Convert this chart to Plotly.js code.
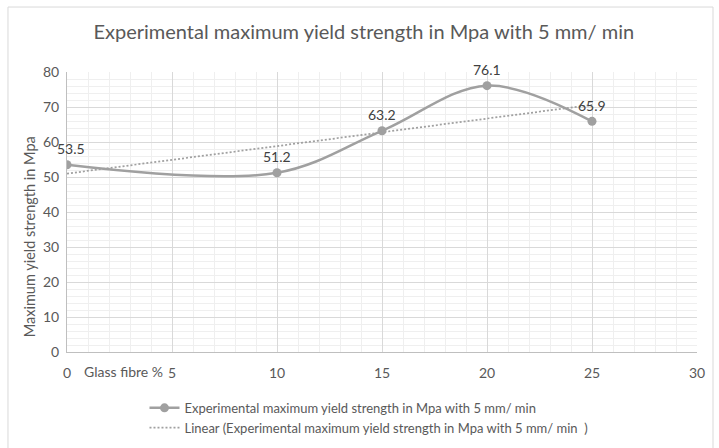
<!DOCTYPE html>
<html>
<head>
<meta charset="utf-8">
<script src="https://cdn.plot.ly/plotly-3.0.1.min.js"></script>
<style>
  html, body { margin: 0; padding: 0; background: #ffffff; }
  #chart { width: 719px; height: 448px; }
</style>
</head>
<body>
<div id="chart"></div>
<script>
// Glass fibre content (%) and measured maximum yield strength (MPa)
const glassFibre = [0, 10, 15, 20, 25];
const yieldStrength = [53.5, 51.2, 63.2, 76.1, 65.9];
const valueLabels = ["53.5", "51.2", "63.2", "76.1", "65.9"];

const seriesName = "Experimental maximum yield strength in Mpa with 5 mm/ min";
const trendName = "Linear (Experimental maximum yield strength in Mpa with 5 mm/ min\u00a0\u00a0)";

// Least-squares linear trend line over the measured points
const n = glassFibre.length;
const mx = glassFibre.reduce((a, b) => a + b, 0) / n;
const my = yieldStrength.reduce((a, b) => a + b, 0) / n;
let sxy = 0, sxx = 0;
for (let i = 0; i < n; i++) {
  sxy += (glassFibre[i] - mx) * (yieldStrength[i] - my);
  sxx += (glassFibre[i] - mx) * (glassFibre[i] - mx);
}
const slope = sxy / sxx;
const intercept = my - slope * mx;
const trendX = [glassFibre[0], glassFibre[n - 1]];
const trendY = trendX.map(x => intercept + slope * x);

const textGrey = "#595959";
const font = "Lato, 'Open Sans', sans-serif";

const traces = [
  {
    x: glassFibre,
    y: yieldStrength,
    name: seriesName,
    type: "scatter",
    mode: "lines+markers",
    line: { color: "#a0a0a0", width: 2.5, shape: "spline", smoothing: 1 },
    marker: { color: "#a0a0a0", size: 9 },
    hoverinfo: "x+y"
  },
  {
    x: trendX,
    y: trendY,
    name: trendName,
    type: "scatter",
    mode: "lines",
    line: { color: "#a0a0a0", width: 1.75, dash: "2px,2px" },
    hoverinfo: "skip"
  }
];

// Value labels above each point
const annotations = glassFibre.map((x, i) => ({
  x: x,
  y: yieldStrength[i],
  xref: "x",
  yref: "y",
  text: valueLabels[i],
  showarrow: false,
  yshift: 16,
  xshift: i === 0 ? 4 : 0,
  font: { family: font, size: 14, color: "#404040" }
}));

annotations.push({
  x: 2.7, y: -0.07, xref: "x", yref: "paper",
  text: "Glass fibre %", showarrow: false,
  xanchor: "center", yanchor: "middle",
  font: { family: font, size: 14, color: textGrey }
});
annotations.push({
  x: -0.0603, y: 0.41, xref: "paper", yref: "paper",
  text: "Maximum yield strength in Mpa", showarrow: false,
  textangle: -90, xanchor: "center", yanchor: "middle",
  font: { family: font, size: 14.5, color: textGrey }
});

const layout = {
  width: 719,
  height: 448,
  margin: { l: 67, r: 22, t: 72, b: 96, autoexpand: false },
  paper_bgcolor: "#ffffff",
  plot_bgcolor: "#ffffff",
  font: { family: font, color: textGrey },
  title: {
    text: "Experimental maximum yield strength in Mpa with 5 mm/ min",
    font: { family: font, size: 20, color: textGrey },
    x: 0.506, xref: "container", xanchor: "center",
    y: 0.928, yref: "container", yanchor: "middle"
  },
  xaxis: {
    range: [0, 30],
    dtick: 5,
    tick0: 0,
    showgrid: true,
    gridcolor: "#d9d9d9",
    gridwidth: 1,
    zeroline: false,
    showline: true,
    linecolor: "#bfbfbf",
    ticks: "",
    ticklabelstandoff: 8,
    tickfont: { family: font, size: 14, color: textGrey },
    minor: { dtick: 1, showgrid: true, gridcolor: "#efefef", gridwidth: 1 },
    fixedrange: true
  },
  yaxis: {
    range: [0, 80],
    dtick: 10,
    tick0: 0,
    showgrid: true,
    gridcolor: "#d9d9d9",
    gridwidth: 1,
    zeroline: false,
    showline: true,
    linecolor: "#bfbfbf",
    ticks: "",
    ticklabelstandoff: 4,
    tickfont: { family: font, size: 14, color: textGrey },
    minor: { dtick: 2, showgrid: true, gridcolor: "#efefef", gridwidth: 1 },
    fixedrange: true
  },
  showlegend: true,
  legend: {
    orientation: "v",
    x: 0.123, xanchor: "left",
    y: -0.146, yanchor: "top",
    font: { family: font, size: 13, color: textGrey },
    bgcolor: "rgba(0,0,0,0)",
    tracegroupgap: 0
  },
  annotations: annotations,
  shapes: [
    {
      type: "rect", xref: "paper", yref: "paper",
      x0: -0.0937, x1: 1.0254, y0: -0.36, y1: 1.232,
      line: { color: "#d9d9d9", width: 1 },
      layer: "below"
    }
  ]
};

Plotly.newPlot("chart", traces, layout, { displayModeBar: false, staticPlot: true });
</script>
</body>
</html>
